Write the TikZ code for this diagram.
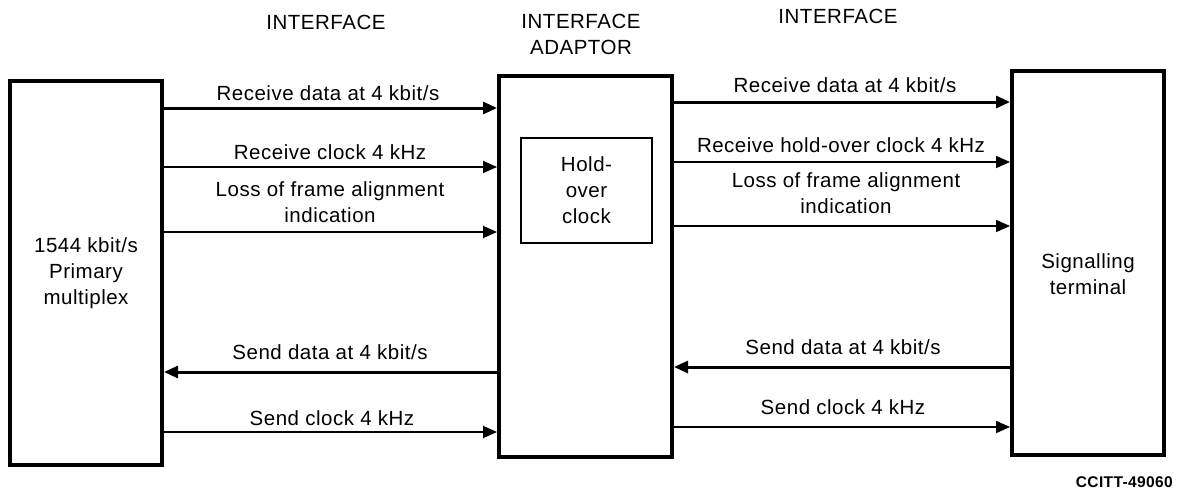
\documentclass[tikz,border=0pt]{standalone}
\usepackage{fontspec}
\setmainfont{Liberation Sans}[LetterSpace=2.5]
\usetikzlibrary{arrows.meta}
\begin{document}
\begin{tikzpicture}[x=1pt,y=-1pt,
  lbl/.style={font=\fontsize{20.5}{26}\selectfont, align=center, inner sep=0pt},
  head/.style={font=\fontsize{20.5}{26}\selectfont, align=center, inner sep=0pt},
  bigbox/.style={draw, line width=4pt, inner sep=0pt},
  smallbox/.style={draw, line width=2pt, inner sep=0pt},
  thinarrow/.style={line width=1.7pt, -{Triangle[length=14pt,width=12pt]}},
  thickarrow/.style={line width=3pt, -{Triangle[length=14pt,width=12pt]}}
]
\useasboundingbox (0,0) rectangle (1177,495);

% boxes
\node[bigbox, lbl, minimum width=152pt, minimum height=384pt] (mux) at (86,273) {1544 kbit/s\\Primary\\multiplex};
\node[bigbox, minimum width=173pt, minimum height=381pt] (adapt) at (585.5,266.5) {};
\node[smallbox, lbl, minimum width=131pt, minimum height=105pt] (hold) at (586.5,190.5) {Hold-\\over\\clock};
\node[bigbox, minimum width=152pt, minimum height=384pt] (term) at (1088,263) {};
\node[lbl] (termtxt) at (1088,274) {Signalling\\terminal};

% headings
\node[head] (h1) at (326,22) {INTERFACE};
\node[head] (h2) at (581,34) {INTERFACE\\ADAPTOR};
\node[head] (h3) at (838,16) {INTERFACE};

% left connectors
\draw[thickarrow] (mux.east |- 0,108) -- (adapt.west |- 0,108);
\draw[thinarrow]  (mux.east |- 0,167) -- (adapt.west |- 0,167);
\draw[thinarrow]  (mux.east |- 0,232) -- (adapt.west |- 0,232);
\draw[thickarrow] (adapt.west |- 0,372) -- (mux.east |- 0,372);
\draw[thinarrow]  (mux.east |- 0,432) -- (adapt.west |- 0,432);

\node[lbl] (l1) at (328,93) {Receive data at 4 kbit/s};
\node[lbl] (l2) at (330,152) {Receive clock 4 kHz};
\node[lbl] (l3) at (330,202) {Loss of frame alignment\\indication};
\node[lbl] (l4) at (330,352) {Send data at 4 kbit/s};
\node[lbl] (l5) at (332,418) {Send clock 4 kHz};

% right connectors
\draw[thickarrow] (adapt.east |- 0,102) -- (term.west |- 0,102);
\draw[thinarrow]  (adapt.east |- 0,162) -- (term.west |- 0,162);
\draw[thinarrow]  (adapt.east |- 0,226) -- (term.west |- 0,226);
\draw[thickarrow] (term.west |- 0,367) -- (adapt.east |- 0,367);
\draw[thinarrow]  (adapt.east |- 0,427) -- (term.west |- 0,427);

\node[lbl] (r1) at (845,85) {Receive data at 4 kbit/s};
\node[lbl] (r2) at (841,145) {Receive hold-over clock 4 kHz};
\node[lbl] (r3) at (846,193) {Loss of frame alignment\\indication};
\node[lbl] (r4) at (843,347) {Send data at 4 kbit/s};
\node[lbl] (r5) at (843,407) {Send clock 4 kHz};

% figure number
\node[font=\fontsize{15.5}{17}\selectfont\bfseries, inner sep=0pt, anchor=east] (fig) at (1173,482) {CCITT-49060};
\end{tikzpicture}
\end{document}
